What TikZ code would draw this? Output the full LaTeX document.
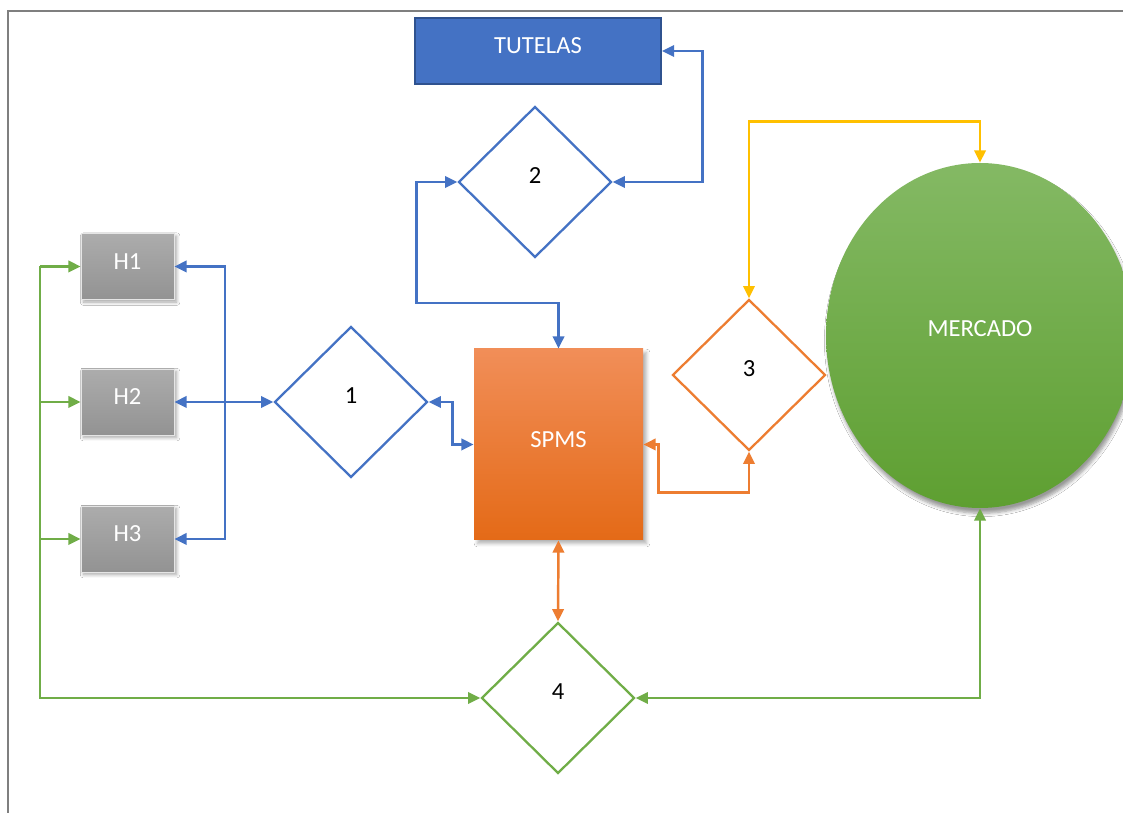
\documentclass[tikz,border=0pt]{standalone}
\usepackage{fontspec}
\setmainfont{Carlito}
\usetikzlibrary{shapes.geometric,arrows.meta,shadows.blur,calc}
\newlength\pxl
\setlength\pxl{0.02cm}
\definecolor{cblue}{HTML}{4472C4}
\definecolor{cblued}{HTML}{2F528F}
\definecolor{corange}{HTML}{ED7D31}
\definecolor{cyellow}{HTML}{FFC000}
\definecolor{cgreen}{HTML}{70AD47}
\definecolor{cframe}{HTML}{7F7F7F}
\definecolor{spmstop}{HTML}{F18E58}
\definecolor{spmsbot}{HTML}{E46A17}
\definecolor{merctop}{HTML}{84B964}
\definecolor{mercbot}{HTML}{5E9F31}
\tikzset{
  txt/.style={font=\fontsize{14}{16}\selectfont},
  dia/.style={shape=diamond, aspect=1, draw, fill=white, line width=1.3pt, inner sep=0pt,
    minimum width=153\pxl, minimum height=151\pxl, txt},
  hbox/.style={rectangle, draw=white!80!gray, line width=0.4pt, top color=gray!65, bottom color=gray!85,
    text=white, minimum width=93\pxl, minimum height=66\pxl, txt,
    blur shadow={shadow xshift=1.5pt, shadow yshift=-1.5pt, shadow blur steps=6, shadow opacity=35}},
  conn/.style={line width=1.4pt, {Triangle[length=7pt,width=6.5pt]}-{Triangle[length=7pt,width=6.5pt]}},
  oneway/.style={line width=1.4pt, -{Triangle[length=7pt,width=6.5pt]}},
}
\begin{document}
\begin{tikzpicture}[x=1\pxl, y=-1\pxl]
\clip (0,0) rectangle (1123,813);
\fill[white] (0,0) rectangle (1123,813);
% frame
\draw[cframe, line width=0.7pt] (8,813) -- (8,11) -- (1123,11);

% nodes
\node[rectangle, fill=cblue, draw=cblued, line width=1pt, minimum width=246\pxl, minimum height=66\pxl,
  text=white, txt] (tut) at (538,51) {\raisebox{11\pxl}{TUTELAS}};
\node[dia, draw=cblue] (d2) at (535,182) {\raisebox{13\pxl}{2}};
\node[dia, draw=cblue] (d1) at (351,402) {\raisebox{13\pxl}{1}};
\node[dia, draw=corange] (d3) at (749,375) {\raisebox{13\pxl}{3}};
\node[dia, draw=cgreen] (d4) at (558,698) {\raisebox{13\pxl}{4}};

\node[hbox] (h1) at (127.5,266.5) {\raisebox{10\pxl}{H1}};
\node[hbox] (h2) at (127.5,402) {\raisebox{10\pxl}{H2}};
\node[hbox] (h3) at (127.5,539) {\raisebox{10\pxl}{H3}};

\node[rectangle, top color=spmstop, bottom color=spmsbot, text=white,
  minimum width=169\pxl, minimum height=191\pxl, txt,
  blur shadow={shadow xshift=2pt, shadow yshift=-2pt, shadow blur steps=6, shadow opacity=30}]
  (spms) at (558.5,444.5) {\raisebox{10\pxl}{SPMS}};

\node[ellipse, top color=merctop, bottom color=mercbot, text=white,
  minimum width=308\pxl, minimum height=345\pxl, inner sep=0pt, txt,
  blur shadow={shadow xshift=1pt, shadow yshift=-3pt, shadow blur steps=6, shadow opacity=40}]
  (merc) at (980,335.5) {\raisebox{13\pxl}{MERCADO}};

% blue connectors
\draw[conn, cblue] (d2.east) -- ++(90,0) |- (tut.east);
\draw[conn, cblue] (d2.west) -- ++(-41,0) -- ++(0,121) -| (spms.north);
\draw[conn, cblue] (d1.east) -- ++(24,0) |- (spms.west);
\coordinate (bus) at (225,402);
\draw[oneway, cblue] (bus) -- (d1.west);
\draw[oneway, cblue] (bus) -- (h2.east);
\draw[oneway, cblue] (bus) |- (h1.east);
\draw[oneway, cblue] (bus) |- (h3.east);

% orange connectors
\draw[conn, corange] (spms.east) -- ++(15,0) -- ++(0,48) -| (d3.south);
\draw[conn, corange] (spms.south) -- (d4.north);

% yellow connector
\draw[conn, cyellow] (d3.north) -- ++(0,-177) -| (merc.north);

% green connectors
\draw[conn, cgreen] (merc.south) |- (d4.east);
\coordinate (gl) at (40,266.5);
\draw[oneway, cgreen] (gl) |- (d4.west);
\draw[oneway, cgreen] (gl) -- (h1.west);
\draw[oneway, cgreen] (gl |- h2.west) -- (h2.west);
\draw[oneway, cgreen] (gl |- h3.west) -- (h3.west);
\end{tikzpicture}
\end{document}
